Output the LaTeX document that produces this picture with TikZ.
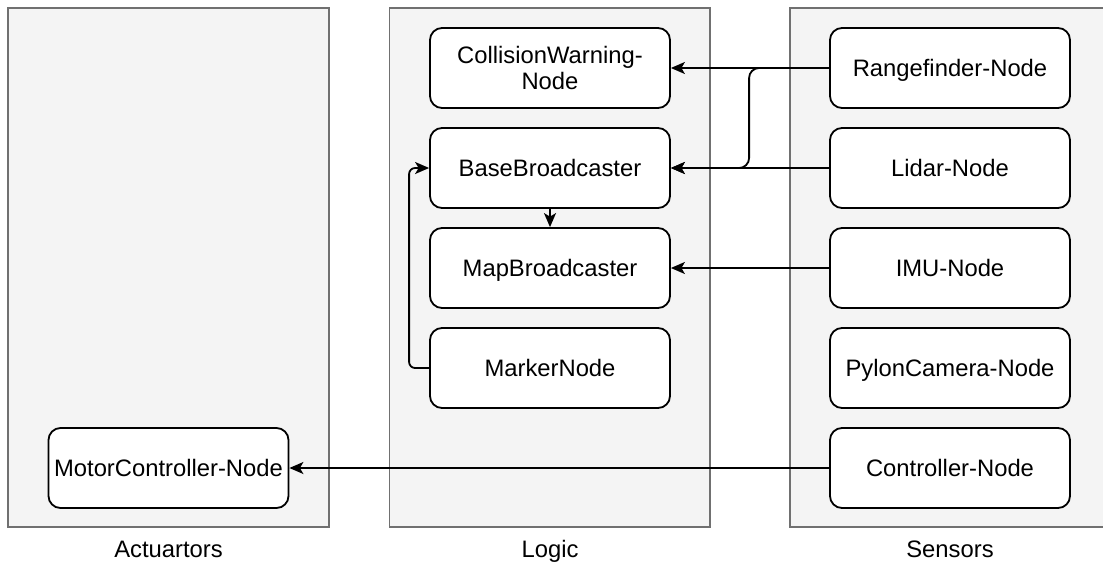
\documentclass[tikz,border=0pt]{standalone}
\usepackage{fontspec}
\setmainfont{Liberation Sans}
\usetikzlibrary{arrows.meta}
\definecolor{groupfill}{HTML}{F4F4F4}
\definecolor{groupline}{HTML}{707070}

\begin{document}
\begin{tikzpicture}[x=1pt,y=-1pt,
  group/.style={draw=groupline, fill=groupfill, line width=1.8pt, minimum height=519pt, inner sep=0pt},
  proc/.style={draw=black, fill=white, line width=1.8pt, rounded corners=12pt,
    minimum width=240pt, minimum height=80pt, inner sep=0pt,
    font=\fontsize{23.8}{26.7}\selectfont, align=center},
  oneline/.style={proc, text height=17pt, text depth=0pt},
  caption/.style={font=\fontsize{23.8}{26.7}\selectfont, anchor=base, inner sep=0pt},
  flow/.style={draw=black, line width=1.8pt, -{Stealth[length=14pt,width=12pt,inset=3.5pt]}}
]
\useasboundingbox (0,0) rectangle (1103,565);
\clip (0,0) rectangle (1103,565);

% column groups
\node[group, minimum width=321pt]   (act) at (168.5,267.5) {};
\node[group, minimum width=320.5pt] (lgc) at (549.75,267.5) {};
\node[group, minimum width=320pt]   (sen) at (950,267.5) {};

\node[caption] (actlbl) at (168.5,557) {Actuartors};
\node[caption] (lgclbl) at (550,557) {Logic};
\node[caption] (senlbl) at (950,557) {Sensors};

% actuators
\node[oneline] (mc) at (168.5,468) {MotorController-Node};

% logic
\node[proc]    (cw)  at (550,68)  {CollisionWarning-\\Node};
\node[oneline] (bb)  at (550,168) {BaseBroadcaster};
\node[oneline] (map) at (550,268) {MapBroadcaster};
\node[oneline] (mk)  at (550,368) {MarkerNode};

% sensors
\node[oneline] (rf)  at (950,68)  {Rangefinder-Node};
\node[oneline] (ld)  at (950,168) {Lidar-Node};
\node[oneline] (imu) at (950,268) {IMU-Node};
\node[oneline] (cam) at (950,368) {PylonCamera-Node};
\node[oneline] (ctl) at (950,468) {Controller-Node};

% data flow
\draw[flow] (rf.west) -- (cw.east);
\draw[flow, rounded corners=10pt] (rf.west) -- ++(-80,0) |- (bb.east);
\draw[flow] (ld.west) -- (bb.east);
\draw[flow] (imu.west) -- (map.east);
\draw[flow] (bb.south) -- (map.north);
\draw[flow, rounded corners=6pt] (mk.west) -- ++(-20,0) |- (bb.west);
\draw[flow] (ctl.west) -- (mc.east);
\end{tikzpicture}
\end{document}
